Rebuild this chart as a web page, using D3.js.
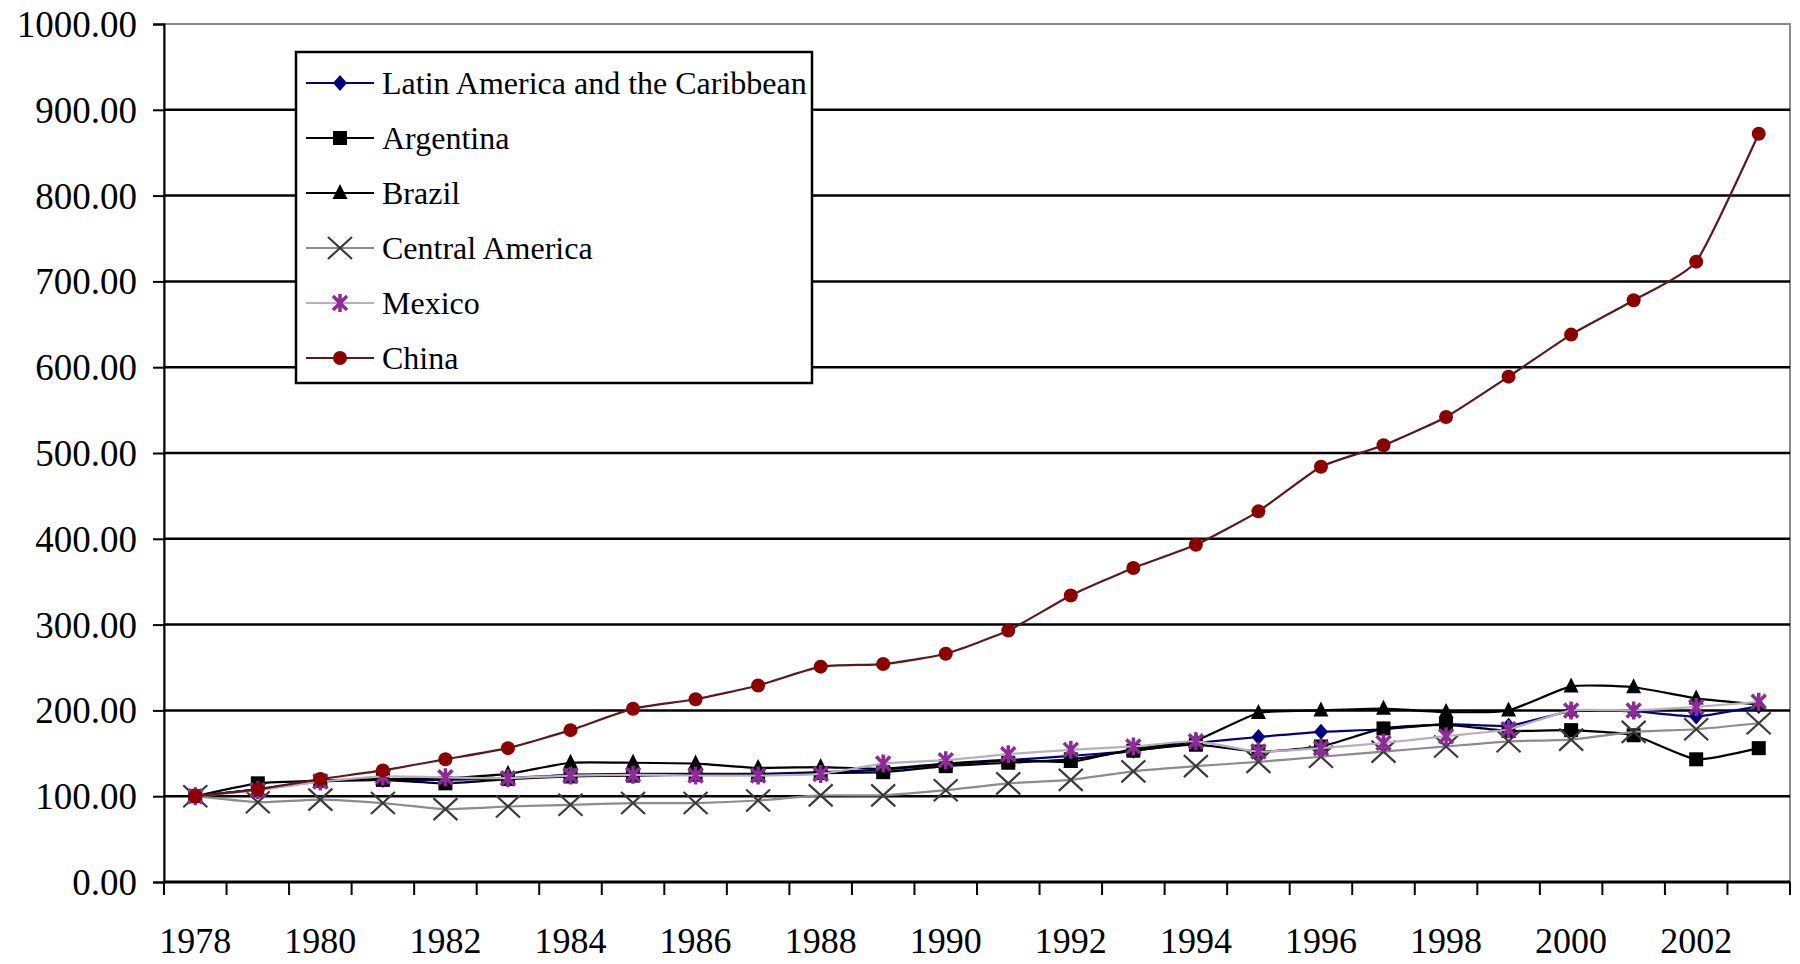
<!DOCTYPE html>
<html>
<head>
<meta charset="utf-8">
<script src="https://cdn.jsdelivr.net/npm/d3@7"></script>
<style>
  body { margin: 0; background: #fff; }
  text { font-family: "Liberation Serif", "Times New Roman", serif; fill: #000; }
</style>
</head>
<body>
<div id="chart"></div>
<script>
// Data
var years       =   d3.range(1978, 2004);
var series_names =  ['Latin America and the Caribbean', 'Argentina', 'Brazil', 'Central America', 'Mexico', 'China'];

var lac         =   [100, 108, 117, 119, 119, 121, 125, 126, 126, 126, 128, 131, 137, 142, 147, 153, 162, 169, 175, 178, 184, 182, 199, 199, 193, 205];
var argentina   =   [100, 115, 118, 119, 115, 120, 123, 124, 125, 125, 127, 128, 135, 139, 143, 153, 160, 152, 158, 179, 183, 176, 177, 171, 143, 156];
var brazil      =   [100, 108, 118, 120, 121, 126, 139, 139, 138, 133, 134, 132, 138, 142, 140, 155, 165, 197, 200, 202, 198, 200, 228, 227, 214, 207];
var central_am  =   [100, 93, 96, 92, 85, 88, 90, 92, 92, 95, 101, 101, 107, 115, 119, 129, 135, 140, 146, 152, 158, 164, 166, 175, 178, 185];
var mexico      =   [100, 107, 117, 123, 122, 121, 124, 125, 124, 124, 126, 138, 142, 149, 154, 158, 164, 152, 156, 162, 170, 178, 200, 200, 204, 210];
var china       =   [100, 108, 120, 130, 143, 156, 177, 202, 213, 229, 251, 254, 266, 293, 334, 366, 393, 432, 484, 509, 542, 589, 638, 678, 723, 872];

var y_ticks     =   d3.range(0, 1001, 100);

var chart_width     =   1800;
var chart_height    =   964;
var plot = { left: 164, right: 1790, top: 24, bottom: 882 };

// series styles
var styles = [
    { values: lac,        line: '#000080', fill: '#000080', marker: 'diamond' },
    { values: argentina,  line: '#000000', fill: '#000000', marker: 'square' },
    { values: brazil,     line: '#000000', fill: '#000000', marker: 'triangle' },
    { values: central_am, line: '#8c8c8c', fill: '#3a3a3a', marker: 'cross' },
    { values: mexico,     line: '#b8aebd', fill: '#8e2a9a', marker: 'star' },
    { values: china,      line: '#5a1a1a', fill: '#8b0000', marker: 'circle' }
];

// Scales
var x_scale = d3.scaleBand()
    .domain(years)
    .range([plot.left, plot.right]);

var y_scale = d3.scaleLinear()
    .domain([0, 1000])
    .range([plot.bottom, plot.top]);

var svg = d3.select('#chart')
    .append('svg')
    .attr('width', chart_width)
    .attr('height', chart_height);

svg.append('rect')
    .attr('width', chart_width)
    .attr('height', chart_height)
    .attr('fill', '#fff');

// plot border (grey) + gridlines (black)
svg.append('rect')
    .attr('x', plot.left)
    .attr('y', plot.top)
    .attr('width', plot.right - plot.left)
    .attr('height', plot.bottom - plot.top)
    .attr('fill', 'none')
    .attr('stroke', '#8a8a8a')
    .attr('stroke-width', 2);

svg.append('g')
    .selectAll('line')
    .data(y_ticks.filter(function(d) { return d > 0 && d < 1000; }))
    .enter()
    .append('line')
    .attr('x1', plot.left)
    .attr('x2', plot.right)
    .attr('y1', function(d) { return y_scale(d); })
    .attr('y2', function(d) { return y_scale(d); })
    .attr('stroke', '#000')
    .attr('stroke-width', 2.5);

// Y axis
var y_axis = d3.axisLeft(y_scale)
    .tickValues(y_ticks)
    .tickSize(11)
    .tickPadding(16)
    .tickFormat(d3.format('.2f'));

svg.append('g')
    .attr('transform', 'translate(' + plot.left + ',0)')
    .call(y_axis)
    .call(function(g) {
        g.selectAll('path, line').attr('stroke', '#000').attr('stroke-width', 2);
        g.selectAll('text').style('font-size', '37px').attr('dy', '0.34em');
    });

// X axis: ticks between categories, labels every other year
var x_axis_g = svg.append('g')
    .attr('transform', 'translate(0,' + plot.bottom + ')');

x_axis_g.append('line')
    .attr('x1', plot.left)
    .attr('x2', plot.right)
    .attr('stroke', '#000')
    .attr('stroke-width', 3);

x_axis_g.selectAll('.tick')
    .data(years.concat([2004]))
    .enter()
    .append('line')
    .attr('x1', function(d, i) { return plot.left + i * x_scale.bandwidth(); })
    .attr('x2', function(d, i) { return plot.left + i * x_scale.bandwidth(); })
    .attr('y1', 0)
    .attr('y2', 13)
    .attr('stroke', '#000')
    .attr('stroke-width', 2);

x_axis_g.selectAll('.lbl')
    .data(years.filter(function(d, i) { return i % 2 === 0; }))
    .enter()
    .append('text')
    .attr('x', function(d) { return x_scale(d) + x_scale.bandwidth() / 2; })
    .attr('y', 71)
    .attr('text-anchor', 'middle')
    .style('font-size', '36px')
    .text(function(d) { return d; });

// Markers
function draw_marker(g, type, s) {
    if (type === 'diamond') {
        g.append('path').attr('d', 'M0,-8L7,0L0,8L-7,0Z').attr('fill', s.fill);
    } else if (type === 'square') {
        g.append('rect').attr('x', -7).attr('y', -7).attr('width', 14).attr('height', 14).attr('fill', s.fill);
    } else if (type === 'triangle') {
        g.append('path').attr('d', 'M0,-9L7.5,6L-7.5,6Z').attr('fill', s.fill);
    } else if (type === 'cross') {
        g.append('path').attr('d', 'M-12,-11L12,11M-12,11L12,-11')
            .attr('stroke', s.fill).attr('stroke-width', 2.2).attr('fill', 'none');
    } else if (type === 'star') {
        g.append('path').attr('d', 'M-7,-7L7,7M-7,7L7,-7M0,-9L0,9')
            .attr('stroke', s.fill).attr('stroke-width', 3.5).attr('fill', 'none');
    } else {
        g.append('circle').attr('r', 7).attr('fill', s.fill);
    }
}

var line_gen = d3.line()
    .x(function(d, i) { return x_scale(years[i]) + x_scale.bandwidth() / 2; })
    .y(function(d) { return y_scale(d); })
    .curve(d3.curveCardinal.tension(0.5));

styles.forEach(function(s) {
    var g = svg.append('g');
    g.append('path')
        .datum(s.values)
        .attr('d', line_gen)
        .attr('fill', 'none')
        .attr('stroke', s.line)
        .attr('stroke-width', 2.2);

    g.selectAll('.m')
        .data(s.values)
        .enter()
        .append('g')
        .attr('transform', function(d, i) {
            return 'translate(' + (x_scale(years[i]) + x_scale.bandwidth() / 2) + ',' + y_scale(d) + ')';
        })
        .each(function() { draw_marker(d3.select(this), s.marker, s); });
});

// Legend
var legend = svg.append('g');

legend.append('rect')
    .attr('x', 296)
    .attr('y', 52)
    .attr('width', 516)
    .attr('height', 331)
    .attr('fill', '#fff')
    .attr('stroke', '#000')
    .attr('stroke-width', 2.5);

var rows = legend.selectAll('.row')
    .data(styles)
    .enter()
    .append('g')
    .attr('transform', function(d, i) { return 'translate(0,' + (83 + i * 55) + ')'; });

rows.append('line')
    .attr('x1', 306)
    .attr('x2', 374)
    .attr('stroke', function(d) { return d.line; })
    .attr('stroke-width', 2.2);

rows.append('g')
    .attr('transform', 'translate(340,0)')
    .each(function(d) { draw_marker(d3.select(this), d.marker, d); });

rows.append('text')
    .attr('x', 382)
    .attr('dy', '0.34em')
    .style('font-size', '32px')
    .text(function(d, i) { return series_names[i]; });
</script>
</body>
</html>
